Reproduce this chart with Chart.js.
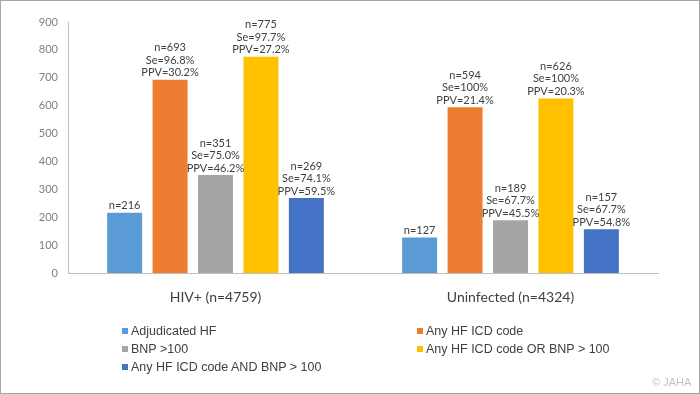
<!DOCTYPE html>
<html>
<head>
<meta charset="utf-8">
<script src="https://cdn.jsdelivr.net/npm/chart.js@4.4.0/dist/chart.umd.min.js"></script>
<style>
    body { margin: 0; background: #fff; }
    #wrap { position: relative; width: 700px; height: 394px; font-family: Lato, "Open Sans", sans-serif; }
    #grafico { position: absolute; left: 0; top: 0; }
    #leyenda { position: absolute; left: 122px; top: 322px; display: grid; grid-template-columns: 295px 260px; font-family: "Liberation Sans", Arial, sans-serif; font-size: 12.5px; color: #404040; }
    #leyenda div { display: flex; align-items: center; height: 18px; white-space: nowrap; }
    #leyenda span { display: inline-block; width: 6px; height: 6px; margin-right: 3px; }
    #copy { position: absolute; left: 652px; top: 376px; font-family: "Liberation Sans", Arial, sans-serif; font-size: 11px; color: #c4c4c4; }
</style>
</head>
<body>
<div id="wrap">
    <canvas id="grafico" width="700" height="394"></canvas>
    <div id="leyenda"></div>
    <div id="copy">© JAHA</div>
</div>
<script>
const categorias = ["HIV+ (n=4759)", "Uninfected (n=4324)"];
const series = ["Adjudicated HF", "Any HF ICD code", "BNP >100", "Any HF ICD code OR BNP > 100", "Any HF ICD code AND BNP > 100"];
const adjudicado = [216, 127];
const icd = [693, 594];
const bnp = [351, 189];
const icdOBnp = [775, 626];
const icdYBnp = [269, 157];
const seIcd = ["96.8%", "100%"];
const seBnp = ["75.0%", "67.7%"];
const seIcdOBnp = ["97.7%", "100%"];
const seIcdYBnp = ["74.1%", "67.7%"];
const ppvIcd = ["30.2%", "21.4%"];
const ppvBnp = ["46.2%", "45.5%"];
const ppvIcdOBnp = ["27.2%", "20.3%"];
const ppvIcdYBnp = ["59.5%", "54.8%"];
const yTicks = [0, 100, 200, 300, 400, 500, 600, 700, 800, 900];

const colores = ['#5B9BD5', '#ED7D31', '#A5A5A5', '#FFC000', '#4472C4'];
const valores = [adjudicado, icd, bnp, icdOBnp, icdYBnp];
const se = [null, seIcd, seBnp, seIcdOBnp, seIcdYBnp];
const ppv = [null, ppvIcd, ppvBnp, ppvIcdOBnp, ppvIcdYBnp];

// Etiquetas sobre cada barra
const etiquetas = {
    id: 'etiquetas',
    afterDatasetsDraw(chart) {
        const ctx = chart.ctx;
        ctx.save();
        ctx.font = '11px Lato, "Open Sans", sans-serif';
        ctx.fillStyle = '#404040';
        ctx.textAlign = 'center';
        ctx.textBaseline = 'middle';
        chart.data.datasets.forEach((ds, d) => {
            chart.getDatasetMeta(d).data.forEach((bar, i) => {
                const lineas = ['n=' + ds.data[i]];
                if (se[d]) lineas.push('Se=' + se[d][i], 'PPV=' + ppv[d][i]);
                lineas.reverse().forEach((t, k) => {
                    ctx.fillText(t, bar.x, bar.y - 7 - k * 12.5);
                });
            });
        });
        ctx.restore();
    }
};

const marco = {
    id: 'marco',
    afterDraw(chart) {
        const ctx = chart.ctx;
        ctx.save();
        ctx.strokeStyle = '#a6a6a6';
        ctx.lineWidth = 1;
        ctx.strokeRect(0.5, 0.5, 699, 393);
        ctx.restore();
    }
};

const ctx1 = document.getElementById("grafico").getContext('2d');
new Chart(ctx1, {
    type: 'bar',
    data: {
        labels: categorias,
        datasets: series.map((s, d) => ({
            label: s,
            data: valores[d],
            backgroundColor: colores[d],
            categoryPercentage: 0.77,
            barPercentage: 0.77
        }))
    },
    options: {
        responsive: false,
        animation: false,
        layout: { padding: { left: 0, right: 42, top: 22, bottom: 0 } },
        plugins: { legend: { display: false }, tooltip: { enabled: false } },
        scales: {
            x: {
                grid: { display: false, drawTicks: false },
                border: { color: '#bfbfbf' },
                ticks: { color: '#404040', font: { size: 14, family: 'Lato, "Open Sans", sans-serif' }, padding: 16 },
                afterFit: s => { s.height = 121; }
            },
            y: {
                min: 0,
                max: 900,
                afterBuildTicks: s => { s.ticks = yTicks.map(v => ({ value: v })); },
                grid: { display: false, drawTicks: false },
                border: { color: '#bfbfbf' },
                ticks: { color: '#7f7f7f', font: { size: 11, family: 'Lato, "Open Sans", sans-serif' }, padding: 10 },
                afterFit: s => { s.width = 68; }
            }
        }
    },
    plugins: [etiquetas, marco]
});

// Leyenda en dos columnas
let html = '';
series.forEach((s, d) => {
    html += `<div><span style="background:${colores[d]}"></span>${s}</div>`;
});
document.getElementById("leyenda").innerHTML = html;
</script>
</body>
</html>
